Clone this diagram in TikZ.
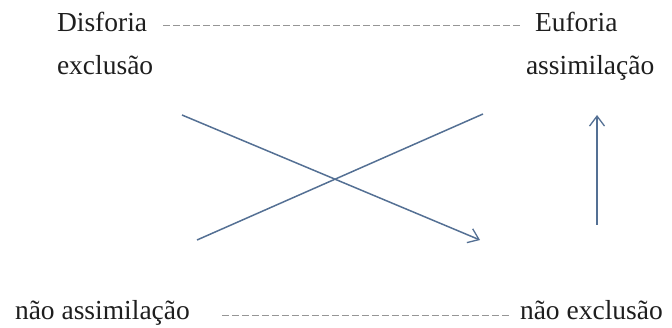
\documentclass[tikz,border=0pt]{standalone}
\usepackage{fontspec}
\setmainfont{Liberation Serif}
\usetikzlibrary{arrows.meta}
\definecolor{arrowblue}{RGB}{84,112,148}
\definecolor{dashgray}{RGB}{150,150,150}
\definecolor{txt}{RGB}{30,30,30}
\tikzset{
  lbl/.style={anchor=base west, inner sep=0pt, outer sep=0pt, text=txt,
    font=\fontsize{27.5}{33}\selectfont},
  dashline/.style={draw=dashgray, line width=0.9pt, dash pattern=on 7pt off 3pt},
  bluearrow/.style={draw=arrowblue, line width=1.5pt,
    -{Straight Barb[length=10pt,width=15pt,line width=1.3pt]}},
  blueline/.style={draw=arrowblue, line width=1.5pt}
}
\begin{document}
\begin{tikzpicture}[x=1pt,y=-1pt]
\useasboundingbox (0,0) rectangle (672,328);
% texts
\node[lbl] (dis) at (57,32) {Disforia};
\node[lbl] (euf) at (535,32) {Euforia};
\node[lbl] (exc) at (57,75) {exclusão};
\node[lbl] (ass) at (526,75) {assimilação};
\node[lbl] (nass) at (15,320) {não assimilação};
\node[lbl] (nexc) at (520,320) {não exclusão};
% dashed connectors
\coordinate (d1a) at (163,25);
\coordinate (d1b) at (523,25);
\coordinate (d2a) at (222,315);
\coordinate (d2b) at (510,315);
\draw[dashline] (d1a) -- (d1b);
\draw[dashline] (d2a) -- (d2b);
% crossing lines
\coordinate (a1) at (182,115);
\coordinate (a2) at (480,240);
\coordinate (b1) at (197,240);
\coordinate (b2) at (483,114);
\draw[bluearrow] (a1) -- (a2);
\draw[blueline] (b1) -- (b2);
% vertical arrow
\coordinate (v1) at (597,225);
\coordinate (v2) at (597,115);
\draw[bluearrow] (v1) -- (v2);
\end{tikzpicture}
\end{document}
